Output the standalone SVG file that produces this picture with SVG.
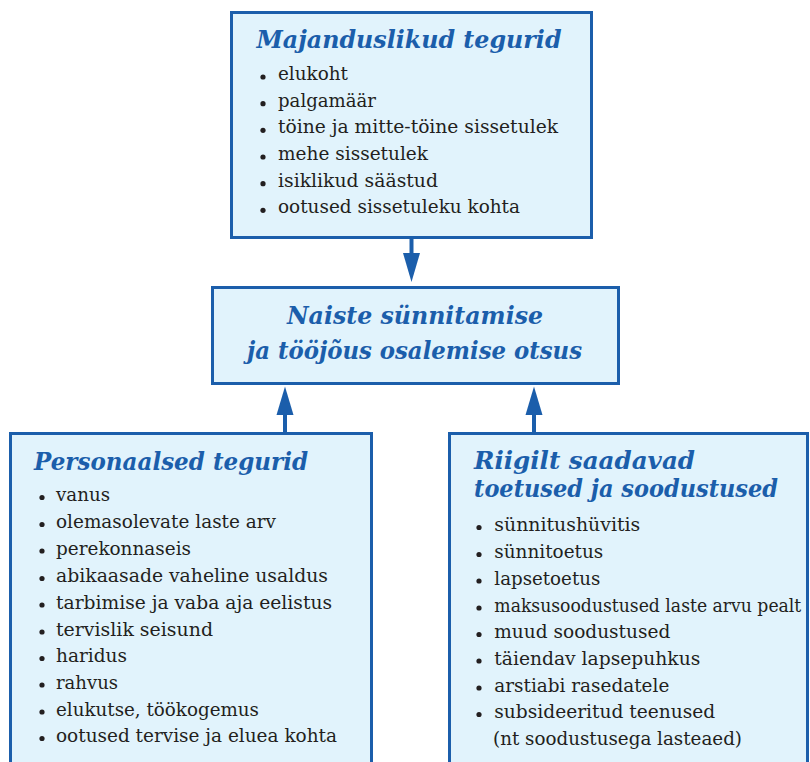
<svg xmlns="http://www.w3.org/2000/svg" width="810" height="762" viewBox="0 0 810 762">
<defs>
<style>
.box{fill:#e1f3fc;stroke:#1b5eab;stroke-width:3}
.t{font-family:"DejaVu Serif",serif;font-style:italic;font-weight:bold;font-size:25px;fill:#1b5eab}
.i{font-family:"DejaVu Serif",serif;font-size:18px;fill:#231f20}
.b{fill:#231f20}
.c{stroke:#1b5eab;stroke-width:4;fill:none}
.h{fill:#1b5eab}
</style>
</defs>
<rect width="810" height="762" fill="#ffffff"/>
<g id="majanduslikud">
<rect class="box" x="231.5" y="12.5" width="360" height="225"/>
<text class="t" x="256.5" y="48" textLength="305" lengthAdjust="spacingAndGlyphs">Majanduslikud tegurid</text>
<g class="b"><circle cx="263" cy="77" r="2.6"/><circle cx="263" cy="103.7" r="2.6"/><circle cx="263" cy="130.3" r="2.6"/><circle cx="263" cy="157" r="2.6"/><circle cx="263" cy="183.7" r="2.6"/><circle cx="263" cy="210.3" r="2.6"/></g>
<text class="i" x="278" y="80" textLength="70" lengthAdjust="spacingAndGlyphs">elukoht</text>
<text class="i" x="278" y="106.7" textLength="98" lengthAdjust="spacingAndGlyphs">palgamäär</text>
<text class="i" x="278" y="133.3" textLength="280" lengthAdjust="spacingAndGlyphs">töine ja mitte-töine sissetulek</text>
<text class="i" x="278" y="160" textLength="150" lengthAdjust="spacingAndGlyphs">mehe sissetulek</text>
<text class="i" x="278" y="186.7" textLength="160" lengthAdjust="spacingAndGlyphs">isiklikud säästud</text>
<text class="i" x="278" y="213.3" textLength="242" lengthAdjust="spacingAndGlyphs">ootused sissetuleku kohta</text>
</g>
<g id="otsus">
<rect class="box" x="212.5" y="287.5" width="406" height="96"/>
<text class="t" x="287" y="324" font-size="27" textLength="256" lengthAdjust="spacingAndGlyphs">Naiste sünnitamise</text>
<text class="t" x="247" y="358.5" font-size="27" textLength="335" lengthAdjust="spacingAndGlyphs">ja tööjõus osalemise otsus</text>
</g>
<g id="personaalsed">
<rect class="box" x="10.5" y="433.5" width="361" height="340"/>
<text class="t" x="34" y="470" textLength="274" lengthAdjust="spacingAndGlyphs">Personaalsed tegurid</text>
<g class="b"><circle cx="42" cy="497.5" r="2.6"/><circle cx="42" cy="524.5" r="2.6"/><circle cx="42" cy="551" r="2.6"/><circle cx="42" cy="578.5" r="2.6"/><circle cx="42" cy="605" r="2.6"/><circle cx="42" cy="632" r="2.6"/><circle cx="42" cy="658.5" r="2.6"/><circle cx="42" cy="685" r="2.6"/><circle cx="42" cy="712" r="2.6"/><circle cx="42" cy="738.5" r="2.6"/></g>
<text class="i" x="56" y="501" textLength="54" lengthAdjust="spacingAndGlyphs">vanus</text>
<text class="i" x="56" y="528" textLength="220" lengthAdjust="spacingAndGlyphs">olemasolevate laste arv</text>
<text class="i" x="56" y="554.5" textLength="135" lengthAdjust="spacingAndGlyphs">perekonnaseis</text>
<text class="i" x="56" y="582" textLength="272" lengthAdjust="spacingAndGlyphs">abikaasade vaheline usaldus</text>
<text class="i" x="56" y="608.5" textLength="276" lengthAdjust="spacingAndGlyphs">tarbimise ja vaba aja eelistus</text>
<text class="i" x="56" y="635.5" textLength="157" lengthAdjust="spacingAndGlyphs">tervislik seisund</text>
<text class="i" x="56" y="662" textLength="71" lengthAdjust="spacingAndGlyphs">haridus</text>
<text class="i" x="56" y="688.5" textLength="62" lengthAdjust="spacingAndGlyphs">rahvus</text>
<text class="i" x="56" y="715.5" textLength="203" lengthAdjust="spacingAndGlyphs">elukutse, töökogemus</text>
<text class="i" x="56" y="742" textLength="281" lengthAdjust="spacingAndGlyphs">ootused tervise ja eluea kohta</text>
</g>
<g id="riigilt">
<rect class="box" x="449.5" y="433.5" width="358" height="340"/>
<text class="t" x="474" y="468.5" textLength="221" lengthAdjust="spacingAndGlyphs">Riigilt saadavad</text>
<text class="t" x="474" y="497" textLength="304" lengthAdjust="spacingAndGlyphs">toetused ja soodustused</text>
<g class="b"><circle cx="479" cy="527.5" r="2.6"/><circle cx="479" cy="554.5" r="2.6"/><circle cx="479" cy="581" r="2.6"/><circle cx="479" cy="608" r="2.6"/><circle cx="479" cy="634.5" r="2.6"/><circle cx="479" cy="661" r="2.6"/><circle cx="479" cy="688" r="2.6"/><circle cx="479" cy="714.5" r="2.6"/></g>
<text class="i" x="494.3" y="531" textLength="146" lengthAdjust="spacingAndGlyphs">sünnitushüvitis</text>
<text class="i" x="494.3" y="558" textLength="109" lengthAdjust="spacingAndGlyphs">sünnitoetus</text>
<text class="i" x="494.3" y="584.5" textLength="106" lengthAdjust="spacingAndGlyphs">lapsetoetus</text>
<text class="i" x="494.3" y="611.5" textLength="307" lengthAdjust="spacingAndGlyphs">maksusoodustused laste arvu pealt</text>
<text class="i" x="494.3" y="638" textLength="176" lengthAdjust="spacingAndGlyphs">muud soodustused</text>
<text class="i" x="494.3" y="664.5" textLength="206" lengthAdjust="spacingAndGlyphs">täiendav lapsepuhkus</text>
<text class="i" x="494.3" y="691.5" textLength="175" lengthAdjust="spacingAndGlyphs">arstiabi rasedatele</text>
<text class="i" x="494.3" y="718" textLength="221" lengthAdjust="spacingAndGlyphs">subsideeritud teenused</text>
<text class="i" x="493" y="744.5" textLength="249" lengthAdjust="spacingAndGlyphs">(nt soodustusega lasteaed)</text>
</g>
<g id="connectors">
<line class="c" x1="411.5" y1="239" x2="411.5" y2="256"/>
<polygon class="h" points="403,253 420,253 411.5,282"/>
<line class="c" x1="285" y1="432" x2="285" y2="412"/>
<polygon class="h" points="276.5,415 293.5,415 285,386.5"/>
<line class="c" x1="534" y1="432" x2="534" y2="412"/>
<polygon class="h" points="525.5,415 542.5,415 534,386.5"/>
</g>
</svg>
